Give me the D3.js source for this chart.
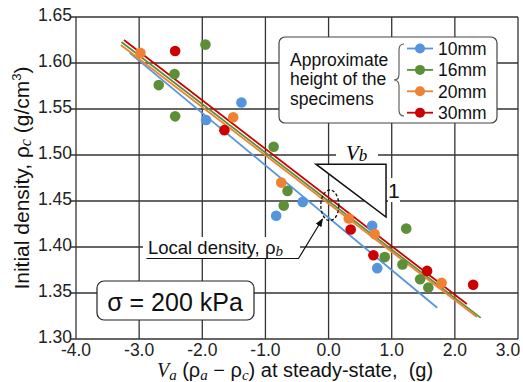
<!DOCTYPE html>
<html>
<head>
<meta charset="utf-8">
<script src="https://cdn.jsdelivr.net/npm/d3@7"></script>
<style>
  body { margin: 0; background: #fff; }
  svg { font-family: "Liberation Sans", Arial, sans-serif; }
</style>
</head>
<body>
<div id="chart-container"></div>
<script>
// series names and colours
var series = ["10mm", "16mm", "20mm", "30mm"];
var colors = ["#5595de", "#5b9038", "#ef8132", "#cc0000"];

// measured points, [Va(pa - pc), pc]
var pts10 = [[-1.94, 1.538], [-1.38, 1.557], [-0.83, 1.434], [-0.41, 1.449], [0.69, 1.423], [0.77, 1.377]];
var pts16 = [[-2.69, 1.576], [-2.44, 1.588], [-2.43, 1.542], [-1.95, 1.620], [-0.87, 1.509], [-0.71, 1.445],
             [-0.65, 1.461], [0.89, 1.389], [1.17, 1.381], [1.23, 1.420], [1.45, 1.365], [1.58, 1.356]];
var pts20 = [[-2.98, 1.611], [-1.51, 1.541], [-0.75, 1.470], [0.32, 1.431], [0.73, 1.414], [1.79, 1.361]];
var pts30 = [[-2.43, 1.613], [-1.65, 1.527], [0.35, 1.419], [0.71, 1.391], [1.56, 1.374], [2.29, 1.359]];

// fitted lines, start and end
var fit10 = [[-3.15, 1.611], [1.72, 1.334]];
var fit16 = [[-3.28, 1.6228], [2.41, 1.323]];
var fit20 = [[-3.29, 1.6196], [2.35, 1.324]];
var fit30 = [[-3.24, 1.625], [2.19, 1.338]];

var xTicks = [-4, -3, -2, -1, 0, 1, 2, 3];
var yTicks = [1.30, 1.35, 1.40, 1.45, 1.50, 1.55, 1.60, 1.65];

var allPts = [pts10, pts16, pts20, pts30];
var allFits = [fit10, fit16, fit20, fit30];

var W = 523, H = 382;
var svg = d3.select("#chart-container").append("svg")
    .attr("width", W).attr("height", H);

var x = d3.scaleLinear().domain([-4, 3]).range([76, 518]);
var y = d3.scaleLinear().domain([1.30, 1.65]).range([339, 17]);

var gridColor = "#333";

// grid
svg.append("g").selectAll("line").data(xTicks).enter().append("line")
    .attr("x1", d => x(d)).attr("x2", d => x(d))
    .attr("y1", y(1.65)).attr("y2", y(1.30))
    .attr("stroke", gridColor).attr("stroke-width", 1.3);
svg.append("g").selectAll("line").data(yTicks).enter().append("line")
    .attr("x1", x(-4) - 5).attr("x2", x(3))
    .attr("y1", d => y(d)).attr("y2", d => y(d))
    .attr("stroke", gridColor).attr("stroke-width", 1.3);

// tick labels (last x label kept inside the frame)
svg.append("g").selectAll("text").data(xTicks).enter().append("text")
    .attr("x", d => Math.min(x(d), W - 15)).attr("y", 356)
    .attr("text-anchor", "middle")
    .attr("font-size", 17.5).attr("fill", "#222")
    .text(d => d.toFixed(1));
svg.append("g").selectAll("text").data(yTicks).enter().append("text")
    .attr("x", 72).attr("y", d => y(d) + 4)
    .attr("text-anchor", "end")
    .attr("font-size", 17.5).attr("fill", "#222")
    .text(d => d.toFixed(2));

// fitted lines
var lineGen = d3.line().x(d => x(d[0])).y(d => y(d[1]));
allFits.forEach(function(f, i) {
    svg.append("path").attr("d", lineGen(f))
        .attr("fill", "none").attr("stroke", colors[i]).attr("stroke-width", 1.8);
});

// points
allPts.forEach(function(p, i) {
    svg.append("g").selectAll("circle").data(p).enter().append("circle")
        .attr("cx", d => x(d[0])).attr("cy", d => y(d[1]))
        .attr("r", 5.3).attr("fill", colors[i]);
});

// slope triangle
var tri = [[-0.20, 1.490], [0.91, 1.490], [0.91, 1.4326]];
svg.append("path")
    .attr("d", "M" + tri.map(d => x(d[0]) + "," + y(d[1])).join("L") + "Z")
    .attr("fill", "#fff").attr("stroke", "#111").attr("stroke-width", 1.5);
svg.append("rect").attr("x", 336).attr("y", 144).attr("width", 42).attr("height", 18).attr("fill", "#fff");
var vb = svg.append("text").attr("x", 346).attr("y", 160)
    .attr("font-family", "Liberation Serif, serif").attr("font-style", "italic").attr("font-size", 21);
vb.append("tspan").text("V");
vb.append("tspan").attr("font-size", 17).attr("dy", 1).text("b");
svg.append("rect").attr("x", 388).attr("y", 178).attr("width", 12).attr("height", 24).attr("fill", "#fff");
svg.append("text").attr("x", 388).attr("y", 198).attr("font-size", 21).attr("fill", "#111").text("1");

// dashed ellipse round the crossing
svg.append("ellipse").attr("cx", x(0.02)).attr("cy", y(1.4453))
    .attr("rx", 9).attr("ry", 15.3)
    .attr("fill", "none").attr("stroke", "#111").attr("stroke-width", 1.3)
    .attr("stroke-dasharray", "3,2");

// local density label
svg.append("defs").append("marker").attr("id", "arr")
    .attr("viewBox", "0 0 10 10").attr("refX", 9).attr("refY", 5)
    .attr("markerWidth", 7).attr("markerHeight", 7).attr("orient", "auto")
    .append("path").attr("d", "M0,1L10,5L0,9Z").attr("fill", "#111");
svg.append("rect").attr("x", 143).attr("y", 237).attr("width", 157).attr("height", 21).attr("fill", "#fff");
var ld = svg.append("text").attr("x", 148).attr("y", 254).attr("font-size", 18.5).attr("fill", "#111");
ld.append("tspan").text("Local density, ρ");
ld.append("tspan").attr("font-family", "Liberation Serif, serif").attr("font-style", "italic")
    .attr("font-size", 15).attr("dy", 2).text("b");
svg.append("path").attr("d", "M146.5,258.5L298.5,258.5L322.5,219")
    .attr("fill", "none").attr("stroke", "#111").attr("stroke-width", 1.2)
    .attr("marker-end", "url(#arr)");

// sigma box
svg.append("rect").attr("x", 97).attr("y", 281).attr("width", 157).attr("height", 39)
    .attr("rx", 7).attr("fill", "#fff").attr("stroke", "#222").attr("stroke-width", 1.2);
svg.append("text").attr("x", 175).attr("y", 311).attr("text-anchor", "middle")
    .attr("font-size", 25).attr("fill", "#111").text("σ = 200 kPa");

// legend
svg.append("rect").attr("x", 279).attr("y", 37).attr("width", 218).attr("height", 86)
    .attr("rx", 6).attr("fill", "#fff").attr("stroke", "#444").attr("stroke-width", 1.2);
["Approximate", "height of the", "specimens"].forEach(function(t, i) {
    svg.append("text").attr("x", 290).attr("y", 66 + i * 19.3)
        .attr("font-size", 17.5).attr("fill", "#111").text(t);
});
svg.append("path")
    .attr("d", "M404,44Q399,44 399,50L399,74Q399,80 394,80Q399,80 399,86L399,110Q399,116 404,116")
    .attr("fill", "none").attr("stroke", "#555").attr("stroke-width", 1.1);
series.forEach(function(s, i) {
    var cy = 48.5 + i * 21.4;
    svg.append("line").attr("x1", 407).attr("x2", 433).attr("y1", cy).attr("y2", cy)
        .attr("stroke", colors[i]).attr("stroke-width", 1.8);
    svg.append("circle").attr("cx", 420).attr("cy", cy).attr("r", 5).attr("fill", colors[i]);
    svg.append("text").attr("x", 438).attr("y", cy + 6.3)
        .attr("font-size", 17.5).attr("fill", "#111").text(s);
});

// axis titles
var xt = svg.append("text").attr("x", 295).attr("y", 377).attr("text-anchor", "middle")
    .attr("font-size", 20).attr("fill", "#111").style("white-space", "pre");
xt.append("tspan").attr("font-family", "Liberation Serif, serif").attr("font-style", "italic").text("V");
xt.append("tspan").attr("font-family", "Liberation Serif, serif").attr("font-style", "italic")
    .attr("font-size", 15).attr("dy", 3).text("a");
xt.append("tspan").attr("dy", -3).text(" (ρ");
xt.append("tspan").attr("font-family", "Liberation Serif, serif").attr("font-style", "italic")
    .attr("font-size", 15).attr("dy", 3).text("a");
xt.append("tspan").attr("dy", -3).text(" − ρ");
xt.append("tspan").attr("font-family", "Liberation Serif, serif").attr("font-style", "italic")
    .attr("font-size", 15).attr("dy", 3).text("c");
xt.append("tspan").attr("dy", -3).text(") at steady-state,  (g)");

var yt = svg.append("text").attr("transform", "translate(29,178) rotate(-90)")
    .attr("text-anchor", "middle").attr("font-size", 21).attr("fill", "#111");
yt.append("tspan").text("Initial density, ρ");
yt.append("tspan").attr("font-family", "Liberation Serif, serif").attr("font-style", "italic")
    .attr("font-size", 16).attr("dy", 2).text("c");
yt.append("tspan").attr("dy", -2).text(" (g/cm");
yt.append("tspan").attr("font-size", 13).attr("dy", -8).text("3");
yt.append("tspan").attr("dy", 8).text(")");
</script>
</body>
</html>
